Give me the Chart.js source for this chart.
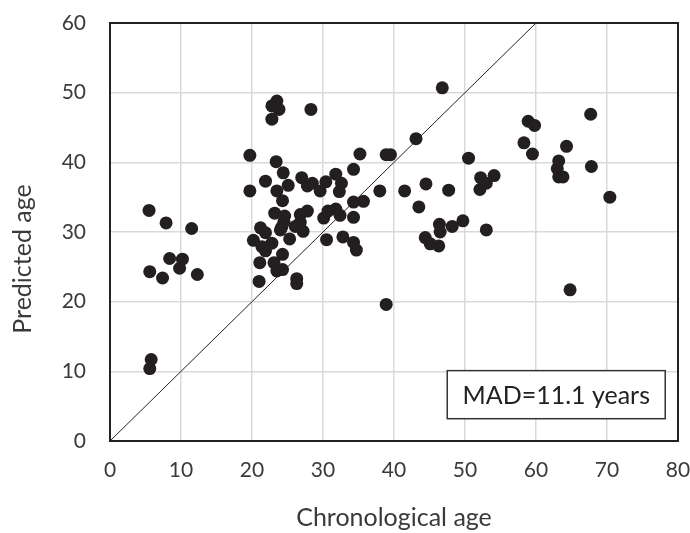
<!DOCTYPE html>
<html>
<head>
<meta charset="utf-8">
<script src="https://cdn.jsdelivr.net/npm/chart.js@4"></script>
<style>
  body { margin: 0; background: #fff; }
  .wrap { width: 690px; height: 533px; }
</style>
</head>
<body>
<div class="wrap"><canvas id="ageChart" width="690" height="533"></canvas></div>
<script>
// chronological age (x) and predicted age (y)
const chronAge = [5.5, 5.6, 7.4, 7.9, 8.4, 9.8, 10.2, 11.5, 12.3, 5.8, 5.6,
  19.7, 19.7, 23.4, 24.4, 21.9, 23.5, 25.1, 24.3, 27.0, 27.8, 28.5, 29.6, 30.4, 31.8, 32.6, 32.3,
  34.3, 35.2, 34.3, 35.7, 34.3, 23.2, 24.6, 26.8, 27.8, 30.1, 30.7, 31.8, 32.4, 21.2, 24.2, 26.1,
  21.9, 20.2, 21.4, 22.8, 21.9, 24.0, 25.3, 27.2, 24.5, 26.8, 30.5, 32.8, 34.3, 34.7, 21.1, 24.3,
  23.1, 23.5, 24.3, 21.0, 26.3, 26.3, 23.5, 22.8, 23.8, 22.8, 28.3, 38.0, 38.9, 39.5, 38.9,
  43.1, 46.8, 50.5, 41.5, 44.5, 47.7, 43.5, 52.2, 54.1, 53.0, 52.1, 49.7, 53.0, 46.4, 46.5, 48.2,
  44.4, 45.1, 46.3, 58.9, 59.8, 58.3, 59.5, 64.3, 67.7, 67.8, 70.4, 63.2, 63.0, 63.2, 63.8, 64.8];
const predAge = [33.1, 24.3, 23.4, 31.3, 26.2, 24.8, 26.1, 30.5, 23.9, 11.7, 10.4,
  41.0, 35.9, 40.1, 38.5, 37.3, 35.9, 36.7, 34.5, 37.8, 36.6, 37.0, 35.9, 37.2, 38.3, 37.0, 35.8,
  39.0, 41.2, 34.3, 34.4, 32.1, 32.7, 32.3, 32.5, 33.0, 32.0, 33.0, 33.3, 32.4, 30.6, 30.7, 30.8,
  29.9, 28.8, 27.9, 28.4, 27.3, 30.3, 29.0, 30.1, 31.5, 31.4, 28.9, 29.3, 28.5, 27.4, 25.6, 26.8,
  25.6, 24.4, 24.6, 22.9, 23.3, 22.6, 48.8, 48.1, 47.6, 46.2, 47.6, 35.9, 41.1, 41.1, 19.6,
  43.4, 50.7, 40.6, 35.9, 36.9, 36.0, 33.6, 37.8, 38.1, 37.0, 36.1, 31.6, 30.3, 31.1, 30.0, 30.8,
  29.2, 28.3, 28.0, 45.9, 45.3, 42.8, 41.2, 42.3, 46.9, 39.4, 35.0, 40.2, 39.1, 37.9, 37.9, 21.7];

const xTicks = [0, 10, 20, 30, 40, 50, 60, 70, 80];
const yTicks = [0, 10, 20, 30, 40, 50, 60];
const identityLine = [0, 60];
const madLabel = "MAD=11.1 years";
// legend box corners, in data units
const madBoxX = [47.5, 78.2];
const madBoxY = [3.2, 10.1];

const FONT = "Lato, 'Open Sans', sans-serif";
const TEXT = "#3a3a3a";

const points = chronAge.map((x, i) => ({ x: x, y: predAge[i] }));

// plot frame, MAD box and the y title
const extras = {
  id: "extras",
  afterDraw(chart) {
    const { ctx, chartArea: a, scales: { x, y } } = chart;
    ctx.save();
    ctx.strokeStyle = "#222";
    ctx.lineWidth = 2;
    ctx.strokeRect(a.left, a.top, a.right - a.left, a.bottom - a.top);

    const bx1 = x.getPixelForValue(madBoxX[0]), bx2 = x.getPixelForValue(madBoxX[1]);
    const by1 = y.getPixelForValue(madBoxY[1]), by2 = y.getPixelForValue(madBoxY[0]);
    ctx.fillStyle = "#fff";
    ctx.fillRect(bx1, by1, bx2 - bx1, by2 - by1);
    ctx.lineWidth = 1.5;
    ctx.strokeStyle = "#333";
    ctx.strokeRect(bx1, by1, bx2 - bx1, by2 - by1);
    ctx.fillStyle = "#222";
    ctx.font = "25px " + FONT;
    ctx.textAlign = "center";
    ctx.textBaseline = "middle";
    ctx.fillText(madLabel, (bx1 + bx2) / 2, (by1 + by2) / 2 + 1);

    ctx.translate(23, 259);
    ctx.rotate(-Math.PI / 2);
    ctx.fillStyle = TEXT;
    ctx.font = "25px " + FONT;
    ctx.fillText("Predicted age", 0, 0);
    ctx.restore();
  }
};

const ctx = document.getElementById("ageChart").getContext("2d");
new Chart(ctx, {
  type: "scatter",
  data: {
    datasets: [{
      data: points,
      backgroundColor: "#231f20",
      borderColor: "#231f20",
      pointRadius: 6.5,
      pointHoverRadius: 6.5,
      borderWidth: 0,
      order: 1
    }, {
      type: "line",
      data: identityLine.map(v => ({ x: v, y: v })),
      borderColor: "#222",
      borderWidth: 1,
      pointRadius: 0,
      fill: false,
      order: 2
    }]
  },
  options: {
    responsive: false,
    animation: false,
    layout: { padding: { top: 23, right: 12, bottom: 0, left: 0 } },
    plugins: { legend: { display: false }, tooltip: { enabled: false } },
    scales: {
      x: {
        type: "linear",
        min: 0, max: 80,
        afterBuildTicks: s => { s.ticks = xTicks.map(v => ({ value: v })); },
        afterFit: s => { s.height = 92; s.paddingLeft = 0; s.paddingRight = 0; },
        grid: { color: "#d9d9d9", lineWidth: 1.5, drawTicks: false },
        border: { display: false },
        ticks: { padding: 17, color: TEXT, font: { family: FONT, size: 21 } },
        title: { display: true, text: "Chronological age", color: TEXT,
                 font: { family: FONT, size: 25 }, padding: { top: 0, bottom: 0 } }
      },
      y: {
        type: "linear",
        min: 0, max: 60,
        afterBuildTicks: s => { s.ticks = yTicks.map(v => ({ value: v })); },
        afterFit: s => { s.width = 110; s.paddingTop = 0; s.paddingBottom = 0; },
        grid: { color: "#d9d9d9", lineWidth: 1.5, drawTicks: false },
        border: { display: false },
        ticks: { padding: 24, color: TEXT, font: { family: FONT, size: 21 } }
      }
    }
  },
  plugins: [extras]
});
</script>
</body>
</html>
